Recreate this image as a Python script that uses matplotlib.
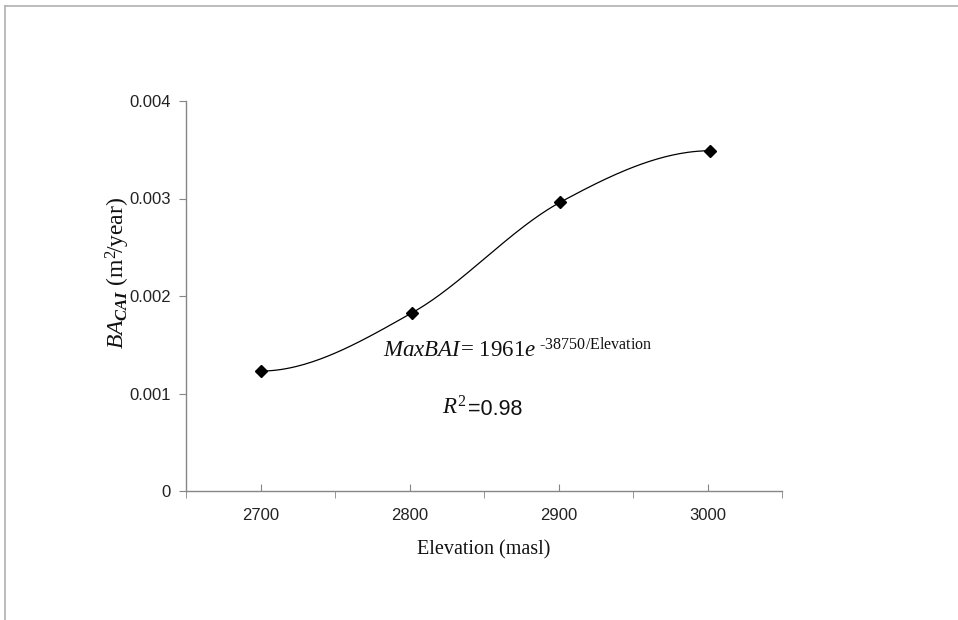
import matplotlib
matplotlib.use("Agg")
import matplotlib.pyplot as plt
from matplotlib.lines import Line2D
import numpy as np

# data
elevation = [2700, 2802, 2901, 3002]
ba_cai = [0.00123, 0.00183, 0.00296, 0.00349]

x_major = [2700, 2800, 2900, 3000]
x_minor = [2650, 2750, 2850, 2950, 3050]
y_ticks = [0, 0.001, 0.002, 0.003, 0.004]
y_ticklabels = ["0", "0.001", "0.002", "0.003", "0.004"]

plt.rcParams["mathtext.fontset"] = "custom"
plt.rcParams["mathtext.rm"] = "Liberation Serif"
plt.rcParams["mathtext.it"] = "Liberation Serif:italic"
plt.rcParams["mathtext.bf"] = "Liberation Serif:italic:bold"
plt.rcParams["mathtext.sf"] = "Liberation Sans"


def smooth_curve(xs, ys, n=60):
    # bezier smoothing similar to a spreadsheet "smoothed line"
    p = np.column_stack([xs, ys]).astype(float)
    first = np.array([2 * p[0, 0] - p[1, 0], p[1, 1]])
    last = np.array([2 * p[-1, 0] - p[-2, 0], p[-2, 1]])
    pts = np.vstack([first, p, last])
    out = []
    t = np.linspace(0, 1, n)[:, None]
    for i in range(1, len(pts) - 2):
        p0, p1 = pts[i], pts[i + 1]
        c1 = p0 + (pts[i + 1] - pts[i - 1]) / 6
        c2 = p1 - (pts[i + 2] - pts[i]) / 6
        seg = (1 - t) ** 3 * p0 + 3 * (1 - t) ** 2 * t * c1 + 3 * (1 - t) * t ** 2 * c2 + t ** 3 * p1
        out.append(seg)
    out = np.vstack(out)
    return out[:, 0], out[:, 1]


fig = plt.figure(figsize=(9.58, 6.2), dpi=100)
ax = fig.add_axes([186 / 958, 129 / 620, 596 / 958, 390 / 620])

cx, cy = smooth_curve(elevation, ba_cai)
ax.plot(cx, cy, color="black", lw=0.9, zorder=2)
ax.plot(elevation, ba_cai, linestyle="none", marker="D", markersize=6,
        color="black", zorder=3)

ax.set_xlim(2650, 3050)
ax.set_ylim(0, 0.004)
ax.set_xticks(x_major)
ax.set_xticklabels([str(v) for v in x_major], fontfamily="Liberation Sans", fontsize=12)
ax.set_xticks(x_minor, minor=True)
ax.set_yticks(y_ticks)
ax.set_yticklabels(y_ticklabels, fontfamily="Liberation Sans", fontsize=12)

gray = "#868686"
for s in ["top", "right"]:
    ax.spines[s].set_visible(False)
for s in ["left", "bottom"]:
    ax.spines[s].set_color(gray)
    ax.spines[s].set_linewidth(1.0)

ax.tick_params(axis="x", which="major", direction="in", length=5, color=gray, pad=12, labelcolor="#222222")
ax.tick_params(axis="x", which="minor", direction="out", length=5, color=gray)
ax.tick_params(axis="y", which="major", direction="out", length=5, color=gray, pad=6, labelcolor="#222222")

ax.set_xlabel("Elevation (masl)", fontfamily="Liberation Serif", fontsize=14.5, color="#111111")
ax.xaxis.set_label_coords(0.5, -0.125)
ax.set_ylabel(r"$BA_{\mathbf{CAI}}\ \mathrm{(m^2\!/year)}$", fontsize=17, color="#111111")
ax.yaxis.set_label_coords(-0.09, 0.56)

ax.text(2782, 0.00137, r"$MaxBAI\!=\!\ 1961e^{\ \text{-38750/Elevation}}$",
        fontsize=16.5, color="#111111", va="baseline", ha="left")
ax.text(2822, 0.00078, r"$R^{2}$",
        fontsize=16.5, color="#111111", va="baseline", ha="left")
ax.text(2839, 0.00078, "=0.98", fontfamily="Liberation Sans",
        fontsize=15.5, color="#111111", va="baseline", ha="left")

# outer frame of the picture
fig.add_artist(Line2D([5 / 958, 1], [1 - 6 / 620, 1 - 6 / 620], color="#b0b0b0", lw=1.2))
fig.add_artist(Line2D([5 / 958, 5 / 958], [0, 1 - 6 / 620], color="#b0b0b0", lw=1.2))

fig.savefig("out.png", dpi=100, facecolor="white")
